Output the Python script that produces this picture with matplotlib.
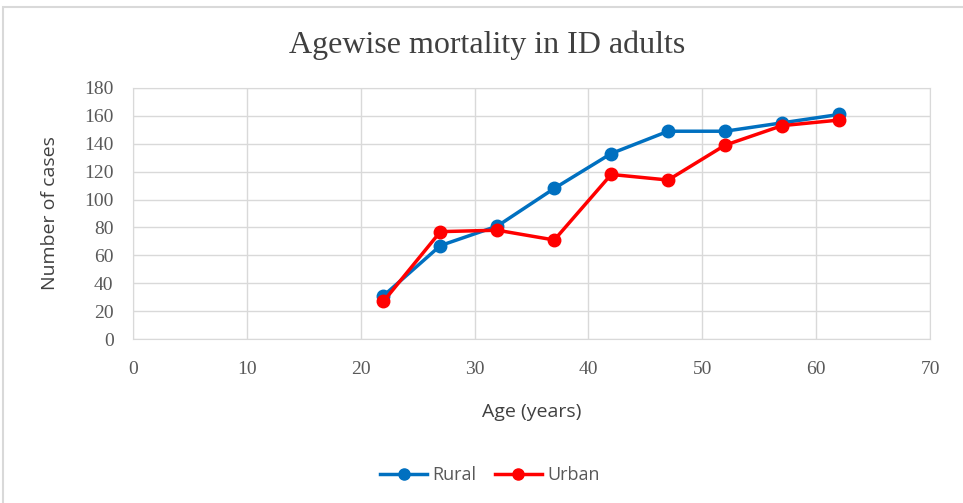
import matplotlib
matplotlib.use('Agg')
import matplotlib.pyplot as plt
from matplotlib.patches import Rectangle

# ----------------------- Data ------------------------
age = [22, 27, 32, 37, 42, 47, 52, 57, 62]
rural = [31, 67, 81, 108, 133, 149, 149, 155, 161]
urban = [27, 77, 78, 71, 118, 114, 139, 153, 157]
x_ticks = [0, 10, 20, 30, 40, 50, 60, 70]
y_ticks = [0, 20, 40, 60, 80, 100, 120, 140, 160, 180]

grey_text = '#595959'
serif = ['Liberation Serif', 'DejaVu Serif']
sans = ['Open Sans', 'DejaVu Sans']

fig = plt.figure(figsize=(9.63, 5.03), dpi=100)
# outer chart frame
fig.patches.append(Rectangle((3 / 963, -0.1), 1.1, 1 - 7 / 503 + 0.1,
                             transform=fig.transFigure, fill=False,
                             edgecolor='#d9d9d9', linewidth=1.5))

ax = fig.add_axes([133 / 963, 1 - 339 / 503, (930 - 133) / 963, (339 - 88) / 503])
ax.plot(age, rural, color='#0070c0', linewidth=2.5, marker='o', markersize=9, label='Rural')
ax.plot(age, urban, color='#ff0000', linewidth=2.5, marker='o', markersize=9, label='Urban')

ax.set_xlim(0, 70)
ax.set_ylim(0, 180)
ax.set_xticks(x_ticks)
ax.set_yticks(y_ticks)
ax.grid(True, color='#d9d9d9', linewidth=1)
ax.set_axisbelow(True)
for s in ax.spines.values():
    s.set_color('#d9d9d9')
ax.tick_params(length=0, colors=grey_text, labelsize=14)
ax.tick_params(axis='x', pad=16)
ax.tick_params(axis='y', pad=14)
for lab in ax.get_xticklabels() + ax.get_yticklabels():
    lab.set_family(serif)

# title is centred on the whole chart area, not on the plot area
fig.text(487 / 963, 1 - 45 / 503, 'Agewise mortality in ID adults', family=serif,
         fontsize=23, color='#404040', ha='center', va='center')
ax.set_xlabel('Age (years)', family=sans, fontsize=14, color='#404040', labelpad=18)
ax.set_ylabel('Number of cases', family=sans, fontsize=14, color='#404040', labelpad=18)

leg = fig.legend(loc='center', bbox_to_anchor=(490 / 963, 1 - 475 / 503), ncol=2,
                 frameon=False, prop={'family': sans, 'size': 13},
                 handlelength=2.6, columnspacing=1.0, handletextpad=0.3)
for t in leg.get_texts():
    t.set_color(grey_text)
for h in leg.legend_handles:
    h.set_markersize(8)

fig.savefig('out.png', dpi=100)
